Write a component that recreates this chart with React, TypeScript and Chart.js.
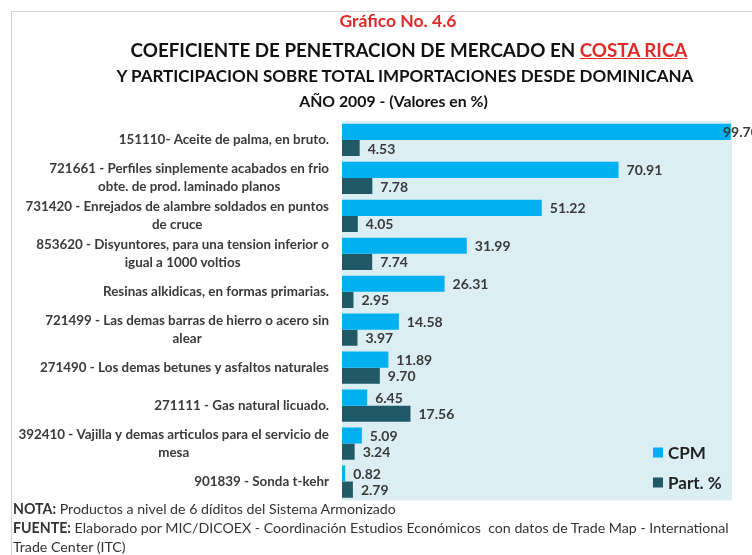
import React, { useEffect, useRef } from "react";
import { Chart, registerables } from "chart.js";

Chart.register(...registerables);

const categories: string[][] = [
  ["151110- Aceite de palma, en bruto."],
  ["721661 - Perfiles sinplemente acabados en frio", "obte. de prod. laminado planos"],
  ["731420 - Enrejados de alambre soldados en puntos", "de cruce"],
  ["853620 - Disyuntores, para una tension inferior o", "igual a 1000 voltios"],
  ["Resinas alkidicas, en formas primarias."],
  ["721499 - Las demas barras de hierro o acero sin", "alear"],
  ["271490 - Los demas betunes y asfaltos naturales"],
  ["271111 - Gas natural licuado."],
  ["392410 - Vajilla y demas articulos para el servicio de", "mesa"],
  ["901839 - Sonda t-kehr"],
];
const cpmValues = [99.7, 70.91, 51.22, 31.99, 26.31, 14.58, 11.89, 6.45, 5.09, 0.82];
const partValues = [4.53, 7.78, 4.05, 7.74, 2.95, 3.97, 9.7, 17.56, 3.24, 2.79];
const seriesNames = ["CPM", "Part. %"];
const seriesColors = ["#00B0F0", "#215967"];

const FONT = "Lato, 'Open Sans', sans-serif";
const TEXT = "#3a3a3a";

const customPlugin = {
  id: "custom",
  beforeDraw(chart: any) {
    const { ctx, chartArea } = chart;
    ctx.save();
    ctx.fillStyle = "#DAEEF3";
    ctx.fillRect(chartArea.left, chartArea.top, chartArea.right - chartArea.left, chartArea.bottom - chartArea.top);
    ctx.restore();
  },
  afterDraw(chart: any) {
    const { ctx, chartArea } = chart;
    const yScale = chart.scales.y;
    ctx.save();
    // category labels
    ctx.font = `bold 13.4px ${FONT}`;
    ctx.fillStyle = TEXT;
    ctx.textBaseline = "middle";
    ctx.textAlign = "center";
    const right = chartArea.left - 13;
    const lh = 17.5;
    categories.forEach((lines, i) => {
      const cy = yScale.getPixelForTick(i);
      const w = Math.max(...lines.map((l) => ctx.measureText(l).width));
      const cx = right - w / 2;
      const y0 = cy - ((lines.length - 1) * lh) / 2;
      lines.forEach((l, j) => ctx.fillText(l, cx, y0 + j * lh));
    });
    // data labels
    ctx.font = `bold 14px ${FONT}`;
    ctx.textAlign = "left";
    chart.data.datasets.forEach((ds: any, di: number) => {
      const meta = chart.getDatasetMeta(di);
      meta.data.forEach((bar: any, i: number) => {
        const lx = Math.min(bar.x + 8, chartArea.right - 9);
        ctx.fillText(Number(ds.data[i]).toFixed(2), lx, bar.y + 1);
      });
    });
    // legend
    ctx.font = `bold 17px ${FONT}`;
    chart.data.datasets.forEach((ds: any, di: number) => {
      const y = chartArea.bottom - 48 + di * 30;
      const x = chartArea.right - 79;
      ctx.fillStyle = ds.backgroundColor;
      ctx.fillRect(x, y - 5, 10, 10);
      ctx.fillStyle = "#222";
      ctx.fillText(ds.label, x + 15, y + 1);
    });
    ctx.restore();
  },
};

function ChartCanvas() {
  const ref = useRef<HTMLCanvasElement>(null);
  useEffect(() => {
    if (!ref.current) return;
    const chart = new Chart(ref.current, {
      type: "bar",
      data: {
        labels: categories.map((c) => c.join(" ")),
        datasets: [
          { label: seriesNames[0], data: cpmValues, backgroundColor: seriesColors[0] },
          { label: seriesNames[1], data: partValues, backgroundColor: seriesColors[1] },
        ],
      },
      options: {
        indexAxis: "y",
        animation: false,
        responsive: false,
        devicePixelRatio: 1,
        layout: { padding: { left: 342, right: 20, top: 121, bottom: 54.5 } },
        datasets: { bar: { categoryPercentage: 0.85, barPercentage: 1 } },
        scales: {
          x: { display: false, min: 0, max: 100 },
          y: { display: false },
        },
        plugins: { legend: { display: false }, tooltip: { enabled: false }, title: { display: false } },
      } as any,
      plugins: [customPlugin],
    });
    return () => chart.destroy();
  }, []);
  return <canvas ref={ref} width={752} height={555} style={{ position: "absolute", left: 0, top: 0, width: 752, height: 555 }} />;
}

export default function App() {
  const center: React.CSSProperties = {
    position: "absolute",
    left: 0,
    width: 808,
    textAlign: "center",
    fontFamily: FONT,
    fontWeight: 700,
    whiteSpace: "nowrap",
    color: "#111",
    lineHeight: "22px",
  };
  return (
    <div style={{ position: "absolute", left: 0, top: 0, width: 752, height: 555, overflow: "hidden", background: "#fff" }}>
      <div style={{ position: "absolute", left: 11, top: 11, width: 800, height: 600, border: "1px solid #d2d2d2", boxShadow: "1px 1px 2px #e4e4e4" }} />
      <ChartCanvas />
      <div style={{ ...center, top: 10, fontSize: 17.5, color: "#E02A2A", width: 796 }}>Gráfico No. 4.6</div>
      <div style={{ ...center, top: 39, fontSize: 18.8, width: 818 }}>
        COEFICIENTE DE PENETRACION DE MERCADO EN <span style={{ color: "#E02A2A", textDecoration: "underline" }}>COSTA RICA</span>
      </div>
      <div style={{ ...center, top: 65, fontSize: 17, width: 810 }}>Y PARTICIPACION SOBRE TOTAL IMPORTACIONES DESDE DOMINICANA</div>
      <div style={{ ...center, top: 90, fontSize: 15.8, width: 787 }}>AÑO 2009 - (Valores en %)</div>
      <div style={{ position: "absolute", left: 13, top: 499, fontFamily: FONT, fontSize: 14.2, lineHeight: "19px", color: "#333", whiteSpace: "nowrap" }}>
        <div><b>NOTA:</b> Productos a nivel de 6 díditos del Sistema Armonizado</div>
        <div><b>FUENTE:</b> Elaborado por MIC/DICOEX - Coordinación Estudios Económicos&nbsp; con datos de Trade Map - International</div>
        <div>Trade Center (ITC)</div>
      </div>
    </div>
  );
}
